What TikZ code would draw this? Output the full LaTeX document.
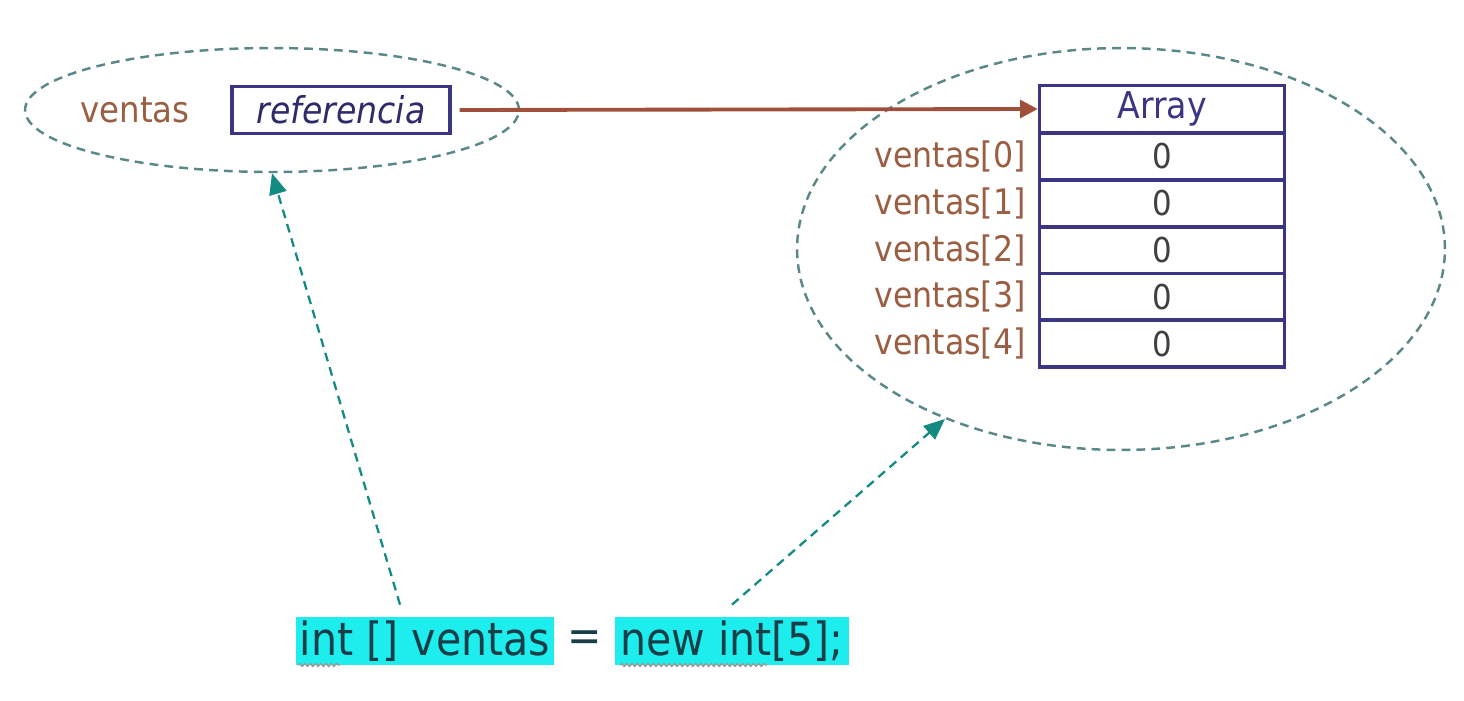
\documentclass[tikz,border=0pt]{standalone}
\usepackage{fontspec}
\setmainfont{DejaVu Sans}[FakeStretch=0.9]
\usetikzlibrary{shapes.geometric,positioning,arrows.meta,decorations.pathmorphing}
\definecolor{navy}{HTML}{3B3584}
\definecolor{rust}{HTML}{A0503A}
\definecolor{labelc}{HTML}{9A5E42}
\definecolor{ovalc}{HTML}{5A8888}
\definecolor{tealc}{HTML}{138A82}
\definecolor{hilite}{HTML}{1EEDED}
\definecolor{codec}{HTML}{1A3E48}
\newcommand{\fs}[1]{\fontsize{#1}{#1}\selectfont}

\begin{document}
\begin{tikzpicture}[x=0.02cm,y=-0.02cm,
    oval/.style={draw=ovalc, ellipse, inner sep=0pt, line width=1.4pt, dash pattern=on 5pt off 3.5pt},
    box/.style={draw=navy, line width=2pt, inner sep=0pt, minimum height=0.94cm},
    cell/.style={box, minimum width=4.9cm, text=black!75, font=\fs{19.5pt}},
    idx/.style={text=labelc, anchor=east, inner sep=0pt, font=\fs{20pt}},
    code/.style={fill=hilite, text=codec, inner sep=0pt, minimum height=0.96cm, font=\fs{26pt}},
    ref/.style={draw=rust, line width=2.2pt, -{Triangle[length=10pt,width=10pt]}},
    hint/.style={draw=tealc, line width=1.3pt, dash pattern=on 5pt off 3.5pt, -{Triangle[length=12pt,width=10pt]}},
    squig/.style={draw=gray!80, line width=0.8pt, decorate, decoration={snake, amplitude=0.8pt, segment length=3pt}}]
  \useasboundingbox (0,0) rectangle (1464,700);

  % the variable
  \node[oval, minimum width=9.88cm, minimum height=2.48cm] (lell) at (272,110) {};
  \node[text=labelc, font=\fs{20.5pt}] (name) at (135,110) {ventas};
  \node[box, minimum width=4.36cm, text=navy!80!black, font=\fs{21pt}\itshape] (refbox) at (341,110) {referencia};

  % the array object
  \node[oval, minimum width=12.96cm, minimum height=8.04cm] (rell) at (1121,249) {};
  \node[cell, text=navy, font=\fs{21pt}] (head) at (1162,109) {Array};
  \foreach \i in {0,...,4} {
    \node[cell] (c\i) at (1162,{156.5+46.8*\i}) {0};
    \node[idx] (l\i) at (1026,{156.5+46.8*\i}) {ventas[\i]};
  }
  \draw[ref] ([xshift=0.16cm]refbox.east) -- (head.west);

  % the statement
  \node[code, minimum width=5.16cm] (decl) at (425,641) {int [] ventas};
  \node[text=codec, font=\fs{26pt}] (eq) at (585,641) {=};
  \node[code, minimum width=4.7cm] (alloc) at (732,641) {new int[5];};
  \draw[squig] (298,665) -- (340,665);
  \draw[squig] (620,665) -- (767,665);

  \draw[hint] ([xshift=-0.5cm,yshift=0.24cm]decl.north) -- (lell.south);
  \draw[hint] ([yshift=0.24cm]alloc.north) -- (rell.224);
\end{tikzpicture}
\end{document}
